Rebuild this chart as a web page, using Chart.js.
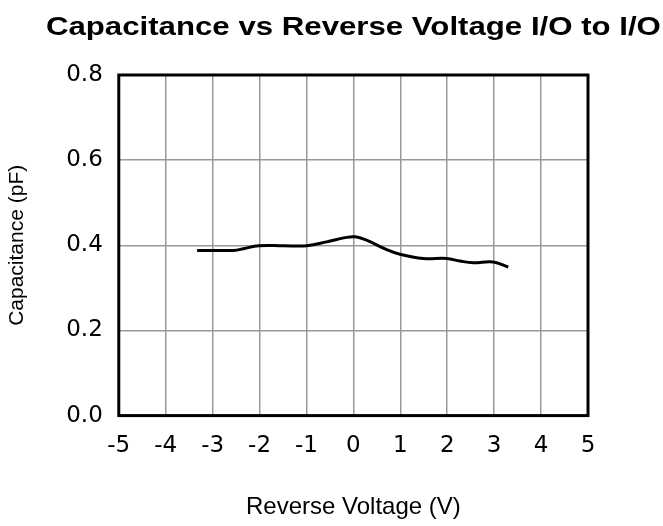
<!DOCTYPE html>
<html>
<head>
<meta charset="utf-8">
<script src="https://cdn.jsdelivr.net/npm/chart.js@4"></script>
<style>
  body { margin: 0; background: #fff; }
  #wrap { width: 663px; height: 526px; }
</style>
</head>
<body>
<div id="wrap"><canvas id="graph" width="663" height="526"></canvas></div>
<script>
// ------------ data -----------------------
var voltage = [-3.33, -2.98, -2.55, -2.34, -2.02, -1.49, -0.99, -0.57, -0.18, 0.04, 0.28, 0.71, 0.99, 1.49, 1.99, 2.27, 2.55, 2.98, 3.30];
var capacitance = [0.388, 0.388, 0.388, 0.392, 0.399, 0.399, 0.399, 0.408, 0.418, 0.420, 0.412, 0.390, 0.379, 0.369, 0.369, 0.363, 0.359, 0.361, 0.349];
var xTicks = [-5, -4, -3, -2, -1, 0, 1, 2, 3, 4, 5];
var yTicks = [0.0, 0.2, 0.4, 0.6, 0.8];
var chartTitle = "Capacitance vs Reverse Voltage I/O to I/O";

var points = [];
for (var i = 0; i < voltage.length; i++) {
  points.push({ x: voltage[i], y: capacitance[i] });
}

// frame round the plot area + title (the original title is a bit wide, so stretch it)
var frame = {
  id: "frame",
  afterDraw: function (chart) {
    var a = chart.chartArea;
    var c = chart.ctx;
    c.save();
    c.strokeStyle = "#000";
    c.lineWidth = 3;
    c.strokeRect(a.left, a.top, a.right - a.left, a.bottom - a.top);

    c.translate((a.left + a.right) / 2, 35);
    c.scale(1.2, 1);
    c.fillStyle = "#000";
    c.font = "bold 26px 'Liberation Sans'";
    c.textAlign = "center";
    c.textBaseline = "alphabetic";
    c.fillText(chartTitle, 0, 0);
    c.restore();
  },
};

var tickFont = { family: "DejaVu Sans", size: 23 };

new Chart(document.getElementById("graph"), {
  type: "scatter",
  data: {
    datasets: [
      {
        data: points,
        showLine: true,
        borderColor: "#000",
        borderWidth: 3,
        pointRadius: 0,
        tension: 0.4,
      },
    ],
  },
  options: {
    responsive: false,
    animation: false,
    layout: { padding: { left: 5, right: 75, top: 75, bottom: 0 } },
    plugins: {
      legend: { display: false },
      tooltip: { enabled: false },
    },
    scales: {
      x: {
        type: "linear",
        min: -5,
        max: 5,
        afterBuildTicks: function (s) {
          s.ticks = xTicks.map(function (v) { return { value: v }; });
        },
        ticks: { color: "#000", font: tickFont, padding: 17, maxRotation: 0 },
        grid: { color: "#999", lineWidth: 1.5, drawTicks: false },
        border: { display: false },
        title: {
          display: true,
          text: "Reverse Voltage (V)",
          color: "#000",
          font: { family: "Liberation Sans", size: 24 },
          padding: { top: 16, bottom: 4 },
        },
      },
      y: {
        min: 0,
        max: 0.8,
        afterBuildTicks: function (s) {
          s.ticks = yTicks.map(function (v) { return { value: v }; });
        },
        ticks: {
          color: "#000",
          font: tickFont,
          padding: 16,
          callback: function (v) { return v.toFixed(1); },
        },
        grid: { color: "#999", lineWidth: 1.5, drawTicks: false },
        border: { display: false },
        title: {
          display: true,
          text: "Capacitance (pF)",
          color: "#000",
          font: { family: "Liberation Sans", size: 21 },
          padding: { top: 0, bottom: 20 },
        },
      },
    },
  },
  plugins: [frame],
});
</script>
</body>
</html>
